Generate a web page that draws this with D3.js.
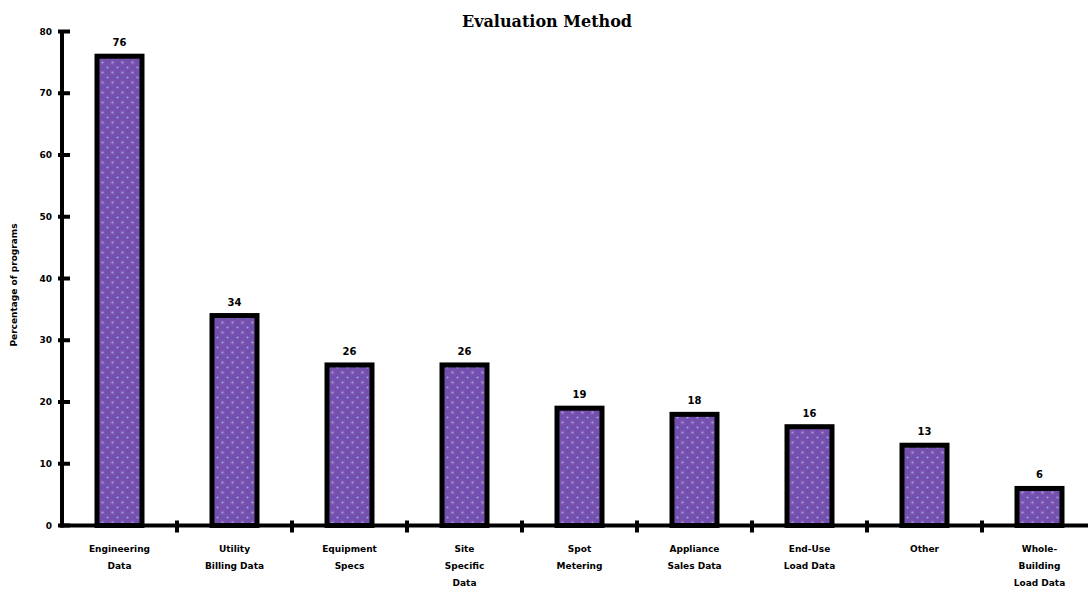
<!DOCTYPE html>
<html lang="en">
<head>
  <meta charset="UTF-8">
  <title>Evaluation Method</title>
  <script src="https://d3js.org/d3.v7.min.js"></script>
  <style>
    body { margin: 0; background: #fff; font-family: "DejaVu Sans", sans-serif; }
    svg { display: block; }
    .tick-label { font-size: 9px; fill: #000; font-weight: bold; }
    .cat-label { font-size: 9px; fill: #000; text-anchor: middle; font-weight: bold; }
    .val-label { font-size: 10px; fill: #000; text-anchor: middle; font-weight: bold; }
  </style>
</head>
<body>
<svg width="1088" height="591"></svg>
<script>
const categories = [
  ["Engineering", "Data"],
  ["Utility", "Billing Data"],
  ["Equipment", "Specs"],
  ["Site", "Specific", "Data"],
  ["Spot", "Metering"],
  ["Appliance", "Sales Data"],
  ["End-Use", "Load Data"],
  ["Other"],
  ["Whole-", "Building", "Load Data"]
];
const values = [76, 34, 26, 26, 19, 18, 16, 13, 6];
const yTicks = [0, 10, 20, 30, 40, 50, 60, 70, 80];

const svg = d3.select("svg");

// dotted purple fill
const defs = svg.append("defs");
const pat = defs.append("pattern")
  .attr("id", "dots")
  .attr("patternUnits", "userSpaceOnUse")
  .attr("width", 10).attr("height", 10);
pat.append("rect").attr("width", 10).attr("height", 10).attr("fill", "#7350b0");
pat.append("rect").attr("x", 0).attr("y", 0).attr("width", 5).attr("height", 5).attr("fill", "#7e54ad");
pat.append("circle").attr("cx", 2.5).attr("cy", 2.5).attr("r", 1.1).attr("fill", "#9aa0e0");
pat.append("circle").attr("cx", 7.5).attr("cy", 7.5).attr("r", 1.1).attr("fill", "#9aa0e0");

const x0 = 62, yBase = 525.5;
const x = d3.scaleBand()
  .domain(d3.range(values.length))
  .range([x0, x0 + 115 * values.length]);
const y = d3.scaleLinear().domain([0, 80]).range([yBase, 31.5]);

// title
svg.append("text")
  .attr("x", 547).attr("y", 27)
  .attr("text-anchor", "middle")
  .style("font-family", "'DejaVu Serif', serif")
  .style("font-weight", "bold")
  .style("font-size", "16px")
  .text("Evaluation Method");

// y axis label
svg.append("text")
  .attr("transform", "translate(17,285) rotate(-90)")
  .attr("text-anchor", "middle")
  .style("font-size", "9px")
  .style("font-weight", "bold")
  .text("Percentage of programs");

// bars
const barW = 45;
svg.append("g").selectAll("rect")
  .data(values)
  .join("rect")
  .attr("x", (d, i) => x(i) + x.bandwidth() / 2 - barW / 2)
  .attr("y", d => y(d))
  .attr("width", barW)
  .attr("height", d => yBase - y(d))
  .attr("fill", "url(#dots)")
  .attr("stroke", "#000")
  .attr("stroke-width", 5);

// value labels
svg.append("g").selectAll("text")
  .data(values)
  .join("text")
  .attr("class", "val-label")
  .attr("x", (d, i) => x(i) + x.bandwidth() / 2)
  .attr("y", d => y(d) - 10)
  .text(d => d);

// y axis
const axis = svg.append("g");
axis.append("line")
  .attr("x1", x0).attr("x2", x0)
  .attr("y1", y(80)).attr("y2", yBase + 2)
  .attr("stroke", "#000").attr("stroke-width", 4);
axis.selectAll(".yt")
  .data(yTicks)
  .join("line")
  .attr("x1", x0 - 4).attr("x2", x0 + 8)
  .attr("y1", d => y(d)).attr("y2", d => y(d))
  .attr("stroke", "#000").attr("stroke-width", 4);
axis.selectAll(".yl")
  .data(yTicks)
  .join("text")
  .attr("class", "tick-label")
  .attr("x", 52).attr("y", d => y(d))
  .attr("dy", "0.35em")
  .attr("text-anchor", "end")
  .text(d => d);

// x axis
axis.append("line")
  .attr("x1", x0 - 2).attr("x2", 1088)
  .attr("y1", yBase).attr("y2", yBase)
  .attr("stroke", "#000").attr("stroke-width", 4);
axis.selectAll(".xt")
  .data(d3.range(1, values.length + 1))
  .join("line")
  .attr("x1", d => x0 + x.step() * d).attr("x2", d => x0 + x.step() * d)
  .attr("y1", yBase - 5).attr("y2", yBase + 7)
  .attr("stroke", "#000").attr("stroke-width", 4);

// category labels
svg.append("g").selectAll("text")
  .data(categories)
  .join("text")
  .attr("class", "cat-label")
  .attr("x", (d, i) => x(i) + x.bandwidth() / 2)
  .attr("y", 552)
  .each(function(lines, i) {
    d3.select(this).selectAll("tspan")
      .data(lines)
      .join("tspan")
      .attr("x", x(i) + x.bandwidth() / 2)
      .attr("dy", (l, j) => j === 0 ? 0 : 17)
      .text(l => l);
  });
</script>
</body>
</html>
